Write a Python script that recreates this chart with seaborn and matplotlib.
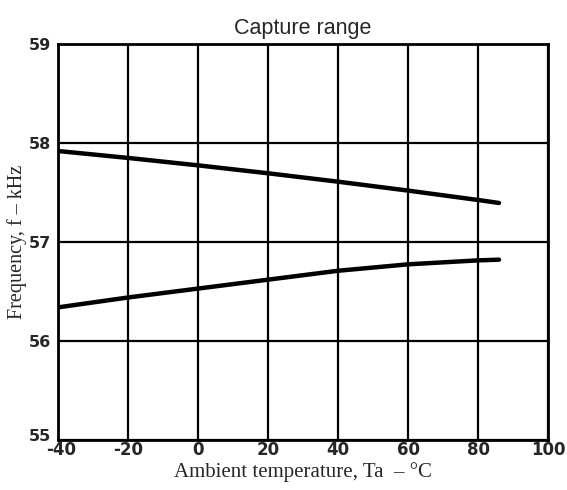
import matplotlib
matplotlib.use("Agg")
import matplotlib.pyplot as plt
import matplotlib.transforms as mtransforms
import seaborn as sns
import pandas as pd

# Data
temp_upper = [-40, -20, 0, 20, 40, 60, 80, 86]
freq_upper = [57.92, 57.85, 57.775, 57.695, 57.61, 57.52, 57.425, 57.395]
temp_lower = [-40, -20, 0, 20, 40, 60, 80, 86]
freq_lower = [56.34, 56.44, 56.53, 56.62, 56.71, 56.775, 56.815, 56.822]
x_ticks = [-40, -20, 0, 20, 40, 60, 80, 100]
y_ticks = [55, 56, 57, 58, 59]

df = pd.concat([
    pd.DataFrame({"temp": temp_upper, "freq": freq_upper, "curve": "upper"}),
    pd.DataFrame({"temp": temp_lower, "freq": freq_lower, "curve": "lower"}),
])

sns.set_style("white")
fig = plt.figure(figsize=(5.67, 4.9), dpi=100)
ax = fig.add_axes([0.1023, 0.102, 0.8642, 0.808])

sns.lineplot(data=df, x="temp", y="freq", units="curve", estimator=None,
             color="black", linewidth=3.2, ax=ax, legend=False, sort=False)

ax.set_xlim(-40, 100)
ax.set_ylim(55, 59)
ax.set_xticks(x_ticks)
ax.set_yticks(y_ticks)
ax.set_xticklabels([str(v) for v in x_ticks], fontweight="heavy", fontsize=12,
                   family="DejaVu Sans")
ax.set_yticklabels([str(v) for v in y_ticks], fontweight="heavy", fontsize=11.5,
                   family="DejaVu Sans")
ax.tick_params(axis="both", length=0)
ax.tick_params(axis="x", pad=1)
ax.tick_params(axis="y", pad=5)
ax.grid(True, color="black", linewidth=1.6)
for s in ax.spines.values():
    s.set_color("black")
    s.set_linewidth(2)

# nudge the lowest y label and first x label apart slightly, as in the reference
lbl55 = ax.get_yticklabels()[0]
lbl55.set_transform(lbl55.get_transform() +
                    mtransforms.ScaledTranslation(0, 5 / 100, fig.dpi_scale_trans))
lbl40 = ax.get_xticklabels()[0]
lbl40.set_transform(lbl40.get_transform() +
                    mtransforms.ScaledTranslation(3 / 100, 0, fig.dpi_scale_trans))

ax.set_title("Capture range", fontsize=15.5, family="Liberation Sans", pad=7)
ax.set_xlabel("Ambient temperature, Ta  \u2013 \u00b0C", fontsize=15,
              family="Liberation Serif", labelpad=2)
ax.set_ylabel("Frequency, f \u2013 kHz", fontsize=14.5,
              family="Liberation Serif")
ax.yaxis.set_label_coords(-0.064, 0.5)

fig.savefig("out.png", dpi=100)
